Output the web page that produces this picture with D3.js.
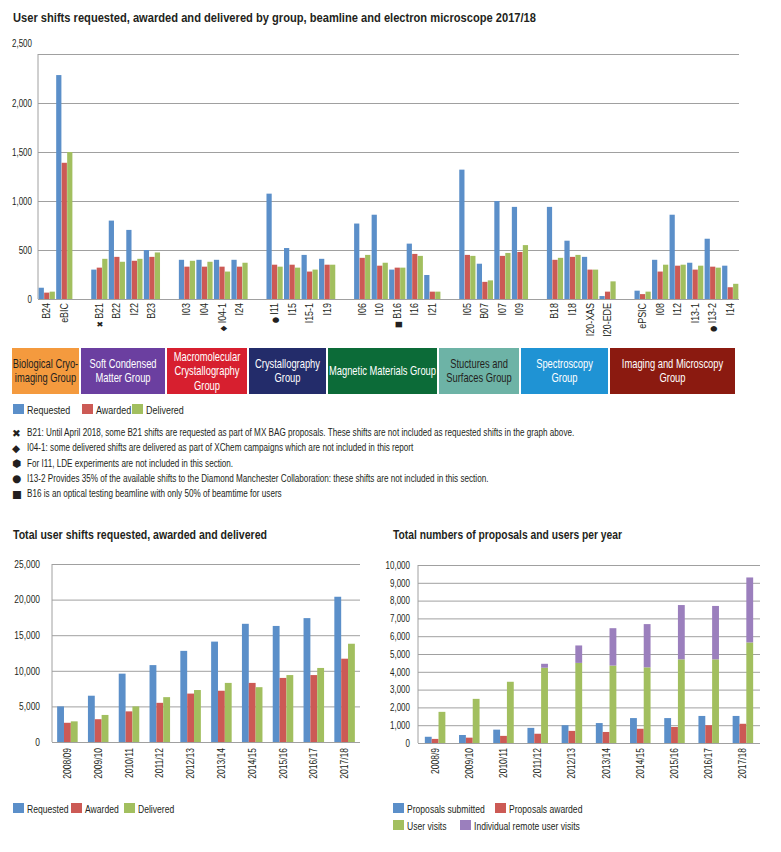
<!DOCTYPE html>
<html>
<head>
<meta charset="utf-8">
<script src="https://cdn.jsdelivr.net/npm/d3@7"></script>
<style>
  body { margin: 0; background: #fff; }
  svg text { font-family: 'Liberation Sans', Arial, sans-serif; fill: #231f20; }
  svg .mark { font-family: 'DejaVu Sans', sans-serif; }
  .title { font-weight: bold; font-size: 13px; }
  .axis path { display: none; }
  .axis line { stroke: #a0a0a0; }
</style>
</head>
<body>
<div id="chart"></div>
<script>
// --- beamline chart data ---
const beamlines = ['B24', 'eBIC', 'B21', 'B22', 'I22', 'B23', 'I03', 'I04', 'I04-1', 'I24',
  'I11', 'I15', 'I15-1', 'I19', 'I06', 'I10', 'B16', 'I16', 'I21', 'I05', 'B07', 'I07', 'I09',
  'B18', 'I18', 'I20-XAS', 'I20-EDE', 'ePSIC', 'I08', 'I12', 'I13-1', 'I13-2', 'I14'];
const groupSizes = [2, 4, 4, 4, 5, 4, 4, 6];
const requested = [115, 2285, 300, 800, 705, 500, 400, 400, 400, 400,
  1075, 520, 450, 410, 770, 860, 300, 565, 245, 1320, 360, 1000, 940,
  940, 595, 430, 30, 85, 400, 860, 370, 615, 340];
const awarded = [65, 1390, 320, 430, 390, 430, 330, 330, 330, 330,
  350, 350, 280, 350, 420, 340, 320, 460, 75, 450, 175, 440, 480,
  400, 430, 300, 75, 50, 280, 340, 300, 330, 120];
const delivered = [75, 1500, 410, 380, 410, 475, 390, 380, 280, 370,
  330, 320, 300, 350, 450, 370, 320, 440, 75, 440, 190, 470, 550,
  420, 450, 300, 180, 75, 350, 350, 340, 320, 155];
const markers = { 'B21': '✖', 'I04-1': '◆', 'I11': '●', 'B16': '■', 'I13-2': '●' };
const yTicksTop = [0, 500, 1000, 1500, 2000, 2500];

const groupNames = [
  ['Biological Cryo-', 'imaging Group'],
  ['Soft Condensed', 'Matter Group'],
  ['Macromolecular', 'Crystallography', 'Group'],
  ['Crystallography', 'Group'],
  ['Magnetic Materials Group'],
  ['Stuctures and', 'Surfaces Group'],
  ['Spectroscopy', 'Group'],
  ['Imaging and Microscopy', 'Group']
];
const groupColors = ['#f49a3e', '#6b3fa0', '#d71f2f', '#232c6a', '#0c6b38', '#6db3a6', '#1f93d4', '#8b1a10'];
const groupTextColors = ['#231f20', '#fff', '#fff', '#fff', '#fff', '#231f20', '#fff', '#fff'];
// box edges (layout) in px
const groupEdges = [12, 81, 167, 249, 328, 439, 521, 610, 737];

const noteMarks = ['✖', '◆', '⬢', '●', '■'];
const notes = [
  'B21: Until April 2018, some B21 shifts are requested as part of MX BAG proposals. These shifts are not included as requested shifts in the graph above.',
  'I04-1: some delivered shifts are delivered as part of XChem campaigns which are not included in this report',
  'For I11, LDE experiments are not included in this section.',
  'I13-2 Provides 35% of the available shifts to the Diamond Manchester Collaboration: these shifts are not included in this section.',
  'B16 is an optical testing beamline with only 50% of beamtime for users'
];

// --- totals chart data ---
const shiftYears = ['2008/09', '2009/10', '2010/11', '2011/12', '2012/13', '2013/14', '2014/15', '2015/16', '2016/17', '2017/18'];
const totalRequested = [5000, 6500, 9600, 10800, 12800, 14100, 16600, 16300, 17400, 20400];
const totalAwarded = [2700, 3200, 4300, 5500, 6800, 7200, 8300, 9000, 9400, 11700];
const totalDelivered = [2900, 3800, 5000, 6300, 7300, 8300, 7700, 9400, 10400, 13800];
const yTicksShifts = [0, 5000, 10000, 15000, 20000, 25000];

// --- proposals chart data ---
const proposalYears = ['2008/9', '2009/10', '2010/11', '2011/12', '2012/13', '2013/14', '2014/15', '2015/16', '2016/17', '2017/18'];
const proposalsSubmitted = [350, 450, 750, 850, 1000, 1120, 1400, 1400, 1520, 1520];
const proposalsAwarded = [230, 300, 400, 520, 680, 620, 800, 900, 1000, 1080];
const userVisits = [1750, 2480, 3440, 4230, 4500, 4350, 4250, 4700, 4700, 5650];
const remoteVisits = [0, 0, 0, 220, 980, 2100, 2430, 3050, 3000, 3650];
const yTicksProposals = [0, 1000, 2000, 3000, 4000, 5000, 6000, 7000, 8000, 9000, 10000];

const C = { blue: '#5b8fc9', red: '#cc5a55', green: '#a2bf5f', purple: '#9b7fbd' };
const fmt = d3.format(',');
const SX = 0.78;   // squeeze, the original uses a condensed face

const svg = d3.select('#chart').append('svg')
  .attr('width', 781)
  .attr('height', 852);

// condensed text helper
function ctext(parent, x, y, str, opt) {
  opt = opt || {};
  let tr = `translate(${x},${y})`;
  if (opt.rotate) tr += ` rotate(${opt.rotate})`;
  tr += ` scale(${opt.sx || SX},1)`;
  const t = parent.append('g').attr('transform', tr).append('text')
    .attr('text-anchor', opt.anchor || 'start')
    .style('font-size', (opt.size || 11) + 'px');
  if (opt.mark) t.append('tspan').attr('class', 'mark').style('font-size', '8.5px').text(opt.mark + ' ');
  t.append('tspan').text(str);
  if (opt.fill) t.style('fill', opt.fill);
  return t;
}

function squeezeTicks(axisG, size, sx) {
  axisG.selectAll('.tick text').each(function() {
    const t = d3.select(this);
    const x = +t.attr('x');
    t.attr('x', 0).attr('transform', `translate(${x},0) scale(${sx},1)`).style('font-size', size + 'px');
  });
}

function title(x, y, str, w) {
  svg.append('text').attr('class', 'title').attr('x', x).attr('y', y)
    .attr('textLength', w).attr('lengthAdjust', 'spacingAndGlyphs').text(str);
}

// ================= top chart =================
title(13, 22, 'User shifts requested, awarded and delivered by group, beamline and electron microscope 2017/18', 523);

const slots = [];
let k = 0;
groupSizes.forEach((n, gi) => {
  if (gi > 0) slots.push('gap' + gi);
  for (let i = 0; i < n; i++) slots.push(beamlines[k++]);
});

const x1 = d3.scaleBand().domain(slots).range([38, 739]);
const x1in = d3.scaleBand().domain([0, 1, 2]).range([0, x1.bandwidth()]).paddingInner(0.05).paddingOuter(0.12);
const y1 = d3.scaleLinear().domain([0, 2500]).range([299, 54]);

const gTop = svg.append('g');
const yAxis1 = gTop.append('g').attr('class', 'axis').attr('transform', 'translate(38,0)')
  .call(d3.axisLeft(y1).tickValues(yTicksTop).tickFormat(fmt).tickSize(-701).tickPadding(6));
squeezeTicks(yAxis1, 10, 0.8);
yAxis1.selectAll('.tick').filter(d => d === 2500).select('text').attr('dy', '-0.8em');
gTop.append('line').attr('x1', 38).attr('x2', 38).attr('y1', 54).attr('y2', 299).attr('stroke', '#a0a0a0');

const seriesTop = [requested, awarded, delivered];
const colorsTop = [C.blue, C.red, C.green];
beamlines.forEach((b, i) => {
  seriesTop.forEach((s, j) => {
    gTop.append('rect')
      .attr('x', x1(b) + x1in(j))
      .attr('width', x1in.bandwidth())
      .attr('y', y1(s[i]))
      .attr('height', y1(0) - y1(s[i]))
      .attr('fill', colorsTop[j]);
  });
});

beamlines.forEach(b => {
  ctext(gTop, x1(b) + x1.bandwidth() / 2 + 3.5, 303, b,
    { rotate: -90, anchor: 'end', size: 10.5, sx: 0.85, mark: markers[b] });
});

// group boxes
groupNames.forEach((lines, i) => {
  const x0 = groupEdges[i], xEnd = groupEdges[i + 1] - 2;
  svg.append('rect').attr('x', x0).attr('y', 348).attr('width', xEnd - x0).attr('height', 46)
    .attr('fill', groupColors[i]);
  const cy = 371 - (lines.length - 1) * 7.25;
  lines.forEach((l, j) => {
    ctext(svg, (x0 + xEnd) / 2, cy + j * 14.5 + 4, l,
      { anchor: 'middle', size: 12, fill: groupTextColors[i] });
  });
});

function legend(items, xs, y, size) {
  items.forEach((it, i) => {
    svg.append('rect').attr('x', xs[i]).attr('y', y - 5).attr('width', 11).attr('height', 10).attr('fill', it[1]);
    ctext(svg, xs[i] + 14, y + 4.5, it[0], { size: size });
  });
}
legend([['Requested', C.blue], ['Awarded', C.red], ['Delivered', C.green]], [13, 82, 132], 409, 11.5);

// notes: squeeze factor fitted so the first line ends where the original's does
const noteG = svg.append('g');
const noteTexts = notes.map((n, i) => {
  const yy = 436 + i * 15.3;
  noteG.append('text').attr('class', 'mark').attr('x', 12).attr('y', yy + 0.5)
    .style('font-size', '10.5px').text(noteMarks[i]);
  return ctext(noteG, 27, yy, n, { size: 11.5, sx: 1 });
});
const noteSx = 548 / noteTexts[0].node().getComputedTextLength();
noteTexts.forEach((t, i) => {
  d3.select(t.node().parentNode).attr('transform', `translate(27,${436 + i * 15.3}) scale(${noteSx},1)`);
});

// ================= bottom left =================
title(13, 539, 'Total user shifts requested, awarded and delivered', 254);

const x2 = d3.scaleBand().domain(shiftYears).range([52, 360]);
const x2in = d3.scaleBand().domain([0, 1, 2]).range([0, x2.bandwidth()]).paddingOuter(0.75).paddingInner(0);
const y2 = d3.scaleLinear().domain([0, 25000]).range([742, 564]);
const gBL = svg.append('g');
const yAxis2 = gBL.append('g').attr('class', 'axis').attr('transform', 'translate(52,0)')
  .call(d3.axisLeft(y2).tickValues(yTicksShifts).tickFormat(fmt).tickSize(-308).tickPadding(12));
squeezeTicks(yAxis2, 10.5, 0.8);
gBL.append('line').attr('x1', 52).attr('x2', 52).attr('y1', 564).attr('y2', 742).attr('stroke', '#a0a0a0');

const seriesBL = [totalRequested, totalAwarded, totalDelivered];
shiftYears.forEach((yr, i) => {
  seriesBL.forEach((s, j) => {
    gBL.append('rect')
      .attr('x', x2(yr) + x2in(j))
      .attr('width', x2in.bandwidth())
      .attr('y', y2(s[i]))
      .attr('height', y2(0) - y2(s[i]))
      .attr('fill', colorsTop[j]);
  });
  ctext(gBL, x2(yr) + x2.bandwidth() / 2 + 3.5, 748, yr, { rotate: -90, anchor: 'end', size: 10, sx: 0.85 });
});
legend([['Requested', C.blue], ['Awarded', C.red], ['Delivered', C.green]], [13, 71, 124], 808, 11);

// ================= bottom right =================
title(393, 539, 'Total numbers of proposals and users per year', 229);

const x3 = d3.scaleBand().domain(proposalYears).range([418, 760]);
const x3in = d3.scaleBand().domain([0, 1, 2]).range([0, x3.bandwidth()]).paddingOuter(1.0).paddingInner(0);
const y3 = d3.scaleLinear().domain([0, 10000]).range([743, 565]);
const gBR = svg.append('g');
const yAxis3 = gBR.append('g').attr('class', 'axis').attr('transform', 'translate(418,0)')
  .call(d3.axisLeft(y3).tickValues(yTicksProposals).tickFormat(fmt).tickSize(-342).tickPadding(8));
squeezeTicks(yAxis3, 10, 0.8);
gBR.append('line').attr('x1', 418).attr('x2', 418).attr('y1', 565).attr('y2', 743).attr('stroke', '#a0a0a0');

const stack = d3.stack().keys(['visits', 'remote'])(proposalYears.map((yr, i) => ({ visits: userVisits[i], remote: remoteVisits[i] })));
proposalYears.forEach((yr, i) => {
  [proposalsSubmitted, proposalsAwarded].forEach((s, j) => {
    gBR.append('rect')
      .attr('x', x3(yr) + x3in(j))
      .attr('width', x3in.bandwidth())
      .attr('y', y3(s[i]))
      .attr('height', y3(0) - y3(s[i]))
      .attr('fill', j === 0 ? C.blue : C.red);
  });
  stack.forEach((layer, li) => {
    const d = layer[i];
    if (d[1] - d[0] <= 0) return;
    gBR.append('rect')
      .attr('x', x3(yr) + x3in(2))
      .attr('width', x3in.bandwidth())
      .attr('y', y3(d[1]))
      .attr('height', y3(d[0]) - y3(d[1]))
      .attr('fill', li === 0 ? C.green : C.purple);
  });
  ctext(gBR, x3(yr) + x3.bandwidth() / 2 + 3.5, 748, yr, { rotate: -90, anchor: 'end', size: 10, sx: 0.85 });
});
legend([['Proposals submitted', C.blue], ['Proposals awarded', C.red]], [393, 495], 808, 11);
legend([['User visits', C.green], ['Individual remote user visits', C.purple]], [393, 460], 825, 11);
</script>
</body>
</html>
